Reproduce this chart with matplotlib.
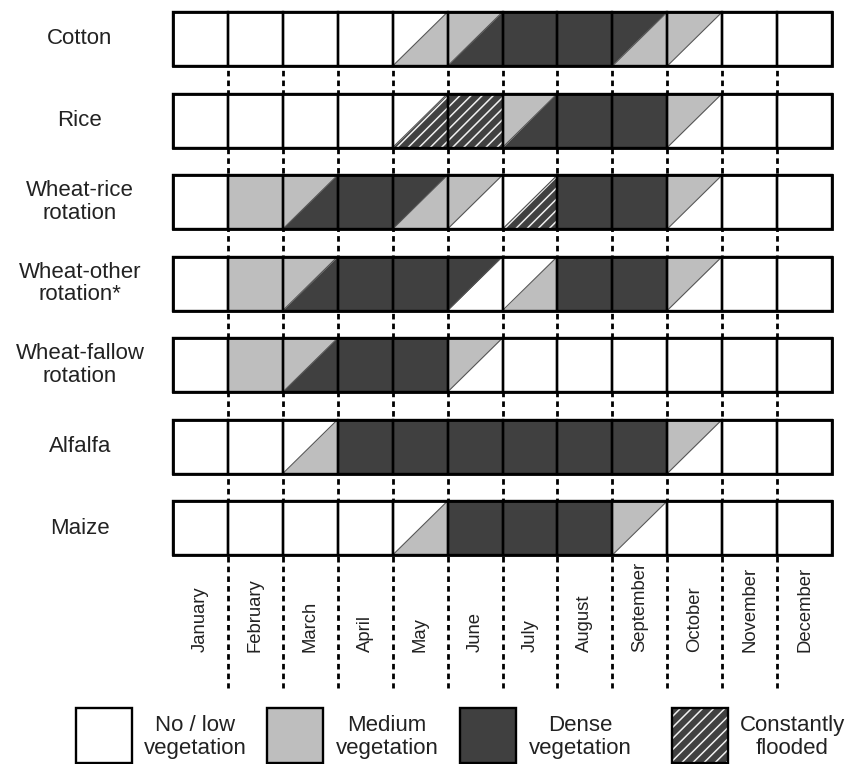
import matplotlib
matplotlib.use("Agg")
import matplotlib.pyplot as plt
from matplotlib.patches import Polygon, Rectangle

plt.rcParams['font.family'] = ['Liberation Sans', 'DejaVu Sans']
plt.rcParams['hatch.linewidth'] = 1.1
plt.rcParams['lines.scale_dashes'] = False

# ---------------- data ----------------
months = ["January", "February", "March", "April", "May", "June", "July",
          "August", "September", "October", "November", "December"]
crops = ["Cotton", "Rice", "Wheat-rice\nrotation", "Wheat-other\nrotation*",
         "Wheat-fallow\nrotation", "Alfalfa", "Maize"]

# each cell: first char = upper-left triangle, second char = lower-right triangle
# N = no / low vegetation, M = medium, D = dense, F = constantly flooded
cotton       = ["NN", "NN", "NN", "NN", "NM", "MD", "DD", "DD", "DM", "MN", "NN", "NN"]
rice         = ["NN", "NN", "NN", "NN", "NF", "FF", "MD", "DD", "DD", "MN", "NN", "NN"]
wheat_rice   = ["NN", "MM", "MD", "DD", "DM", "MN", "NF", "DD", "DD", "MN", "NN", "NN"]
wheat_other  = ["NN", "MM", "MD", "DD", "DD", "DN", "NM", "DD", "DD", "MN", "NN", "NN"]
wheat_fallow = ["NN", "MM", "MD", "DD", "DD", "MN", "NN", "NN", "NN", "NN", "NN", "NN"]
alfalfa      = ["NN", "NN", "NM", "DD", "DD", "DD", "DD", "DD", "DD", "MN", "NN", "NN"]
maize        = ["NN", "NN", "NN", "NN", "NM", "DD", "DD", "DD", "MN", "NN", "NN", "NN"]
rows = [cotton, rice, wheat_rice, wheat_other, wheat_fallow, alfalfa, maize]

legend_codes = ["N", "M", "D", "F"]
legend_labels = ["No / low\nvegetation", "Medium\nvegetation",
                 "Dense\nvegetation", "Constantly\nflooded"]

# ---------------- styles ----------------
FILL = {"N": "#ffffff", "M": "#bebebe", "D": "#404040", "F": "#404040"}
TXT = "#222222"
HATCH = "///"

# ---------------- layout (pixels) ----------------
W, H = 851, 764
GX0, GX1 = 173, 832
GY0, PITCH, CELL_H = 12, 81.5, 54
DASH_END = 688
colw = (GX1 - GX0) / 12.0
h = CELL_H / PITCH

fig = plt.figure(figsize=(W / 100, H / 100), dpi=100)
ax = fig.add_axes([0, 0, 1, 1])
ax.set_xlim(-GX0 / colw, (W - GX0) / colw)
ax.set_ylim((H - GY0) / PITCH, -GY0 / PITCH)
ax.axis('off')


def px(x, y):
    return (x - GX0) / colw, (y - GY0) / PITCH


def shape(pts, code):
    kw = dict(closed=True, facecolor=FILL[code], linewidth=0, zorder=2)
    if code == "F":
        kw.update(edgecolor="#f0f0f0", hatch=HATCH)
    else:
        kw.update(edgecolor=FILL[code])
    ax.add_patch(Polygon(pts, **kw))


# dashed month separators (behind cells)
y_end = px(0, DASH_END)[1]
for k in range(1, 12):
    ax.plot([k, k], [0, y_end], color="black", lw=2.0, ls=(0, (4.0, 3.0)),
            zorder=1, dash_capstyle="butt")

for i, (label, cells) in enumerate(zip(crops, rows)):
    yt, yb = i, i + h
    for j, code in enumerate(cells):
        ul, lr = code[0], code[1]
        x0, x1 = j, j + 1
        if ul == lr:
            shape([(x0, yb), (x0, yt), (x1, yt), (x1, yb)], ul)
        else:
            shape([(x0, yb), (x0, yt), (x1, yt)], ul)
            shape([(x0, yb), (x1, yb), (x1, yt)], lr)
            ax.plot([x0, x1], [yb, yt], color="#555555", lw=0.8, zorder=3)
        ax.add_patch(Rectangle((x0, yt), 1, h, facecolor="none",
                               edgecolor="black", lw=1.7, zorder=4))
    ax.add_patch(Rectangle((0, yt), 12, h, facecolor="none",
                           edgecolor="black", lw=2.0, zorder=5))
    lx, _ = px(80, 0)
    ax.text(lx, yt + h / 2, label, ha="center", va="center", fontsize=16,
            color=TXT, linespacing=1.1, zorder=6)

# month labels
ly = px(0, 652)[1]
for j, m in enumerate(months):
    ax.text(j + 0.5, ly, m, rotation=90, ha="center", va="bottom",
            fontsize=13.3, color=TXT)

# legend
box_x = [76, 267, 460, 672]
txt_x = [195, 387, 580, 792]
bw, bh = 56 / colw, 55 / PITCH
for code, lab, bx, tx in zip(legend_codes, legend_labels, box_x, txt_x):
    x0, y0 = px(bx, 708)
    if code == "F":
        ax.add_patch(Rectangle((x0, y0), bw, bh, facecolor=FILL[code],
                               edgecolor="#f0f0f0", hatch=HATCH, lw=0, zorder=2))
        ax.add_patch(Rectangle((x0, y0), bw, bh, facecolor="none",
                               edgecolor="black", lw=1.7, zorder=4))
    else:
        ax.add_patch(Rectangle((x0, y0), bw, bh, facecolor=FILL[code],
                               edgecolor="black", lw=1.7, zorder=2))
    tx_d, ty_d = px(tx, 737)
    ax.text(tx_d, ty_d, lab, ha="center", va="center", fontsize=16,
            color=TXT, linespacing=1.1, multialignment="center")

fig.savefig("out.png", dpi=100)
